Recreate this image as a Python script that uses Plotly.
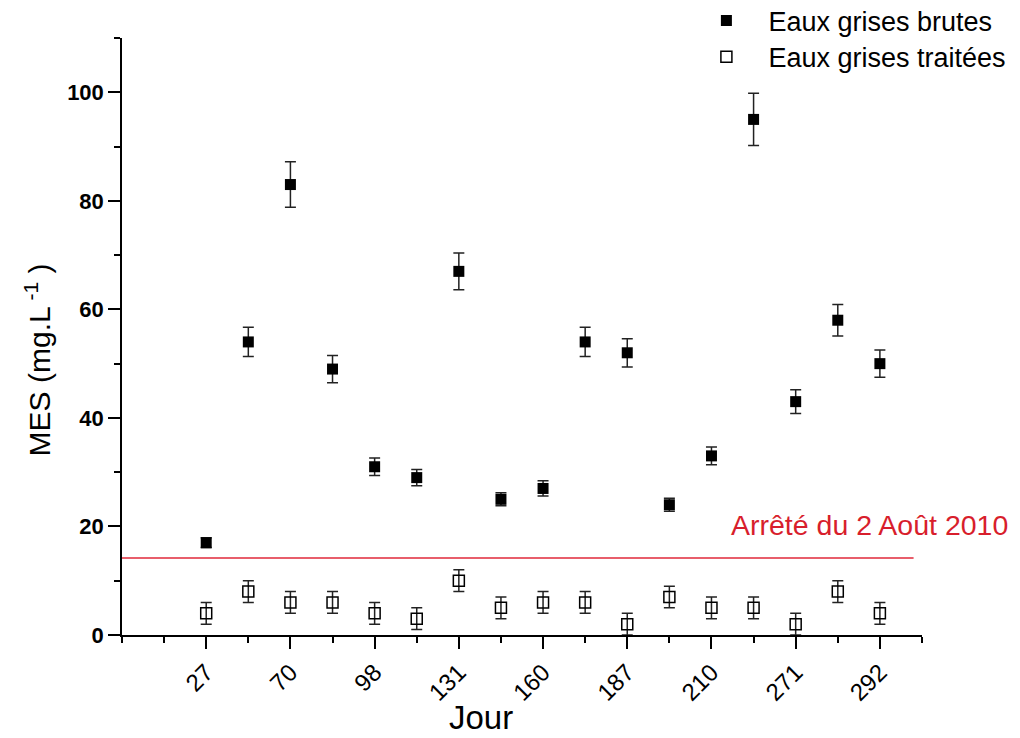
import plotly.graph_objects as go

# ---- data ----
positions = list(range(2, 19))  # 17 sampling points along the category axis
tick_positions = [2, 4, 6, 8, 10, 12, 14, 16, 18]
tick_labels = ["27", "70", "98", "131", "160", "187", "210", "271", "292"]

brutes = [17, 54, 83, 49, 31, 29, 67, 25, 27, 54, 52, 24, 33, 95, 43, 58, 50]
brutes_err = [0.9, 2.7, 4.2, 2.5, 1.6, 1.5, 3.4, 1.2, 1.4, 2.7, 2.6, 1.2, 1.65, 4.8, 2.2, 2.9, 2.5]

traitees = [4, 8, 6, 6, 4, 3, 10, 5, 6, 6, 2, 7, 5, 5, 2, 8, 4]
traitees_err = [2, 2, 2, 2, 2, 2, 2, 2, 2, 2, 2, 2, 2, 2, 2, 2, 2]

limit_value = 14.2
limit_label = "Arrêté du 2 Août 2010"

FONT = "Liberation Sans, Arial, sans-serif"

fig = go.Figure()

fig.add_trace(go.Scatter(
    x=positions, y=brutes, mode="markers", name="Eaux grises brutes",
    marker=dict(symbol="square", size=11, color="black", line=dict(width=0)),
    error_y=dict(type="data", array=brutes_err, visible=True, color="#222222",
                 thickness=1.5, width=5.5),
    legend="legend",
))
fig.add_trace(go.Scatter(
    x=positions, y=traitees, mode="markers", name="Eaux grises traitées",
    marker=dict(symbol="square-open", size=11, color="black", line=dict(width=1.5)),
    error_y=dict(type="data", array=traitees_err, visible=True, color="#222222",
                 thickness=1.5, width=5.5),
    legend="legend2",
))

fig.add_shape(type="line", xref="x", yref="y", x0=0, x1=18.8,
              y0=limit_value, y1=limit_value,
              line=dict(color="#e0283a", width=1.5))

# long tick at the start of the x axis
fig.add_shape(type="line", xref="x", yref="y", ysizemode="pixel", yanchor=0,
              x0=0, x1=0, y0=0, y1=-12, line=dict(color="black", width=1.5))

fig.add_annotation(x=14.42, y=20.3, xref="x", yref="y", text=limit_label,
                   showarrow=False, xanchor="left", yanchor="middle",
                   font=dict(family=FONT, size=28.5, color="#d81e2c"))

# axis titles as annotations (positioned like the reference)
fig.add_annotation(x=-0.105, y=0.46, xref="paper", yref="paper",
                   text="MES (mg.L<sup> -1</sup> )", textangle=-90, showarrow=False,
                   xanchor="center", yanchor="middle",
                   font=dict(family=FONT, size=30, color="black"))
fig.add_annotation(x=0.449, y=-0.139, xref="paper", yref="paper",
                   text="Jour", showarrow=False, xanchor="center", yanchor="middle",
                   font=dict(family=FONT, size=33, color="black"))

fig.update_xaxes(
    range=[0, 19], showgrid=False, zeroline=False,
    showline=True, linecolor="black", linewidth=1.5,
    tickmode="array", tickvals=tick_positions, ticktext=tick_labels,
    ticks="outside", ticklen=12, tickwidth=1.5, tickcolor="black",
    tickangle=-45, tickfont=dict(family=FONT, size=24, color="black"),
    minor=dict(tickmode="linear", tick0=0, dtick=1, ticks="outside",
               ticklen=6, tickwidth=1.5, tickcolor="black"),
)
fig.update_yaxes(
    range=[0, 110], showgrid=False, zeroline=False,
    showline=True, linecolor="black", linewidth=1.5,
    tickmode="linear", tick0=0, dtick=20,
    ticks="outside", ticklen=12, tickwidth=1.5, tickcolor="black",
    tickfont=dict(family=FONT, size=22, color="black", weight="bold"),
    ticklabelstandoff=0,
    minor=dict(tickmode="linear", tick0=0, dtick=10, ticks="outside",
               ticklen=6, tickwidth=1.5, tickcolor="black"),
)

legend_style = dict(xanchor="left", yanchor="middle",
                    font=dict(family=FONT, size=27, color="black"),
                    itemwidth=74, bgcolor="rgba(0,0,0,0)")

fig.update_layout(
    width=1012, height=730,
    margin=dict(l=114, r=98, t=30, b=103, autoexpand=False),
    paper_bgcolor="white", plot_bgcolor="white",
    font=dict(family=FONT, color="black"),
    showlegend=True,
    legend=dict(x=0.703, y=1.0285, **legend_style),
    legend2=dict(x=0.703, y=0.968, **legend_style),
)

fig.write_html("out.html")
